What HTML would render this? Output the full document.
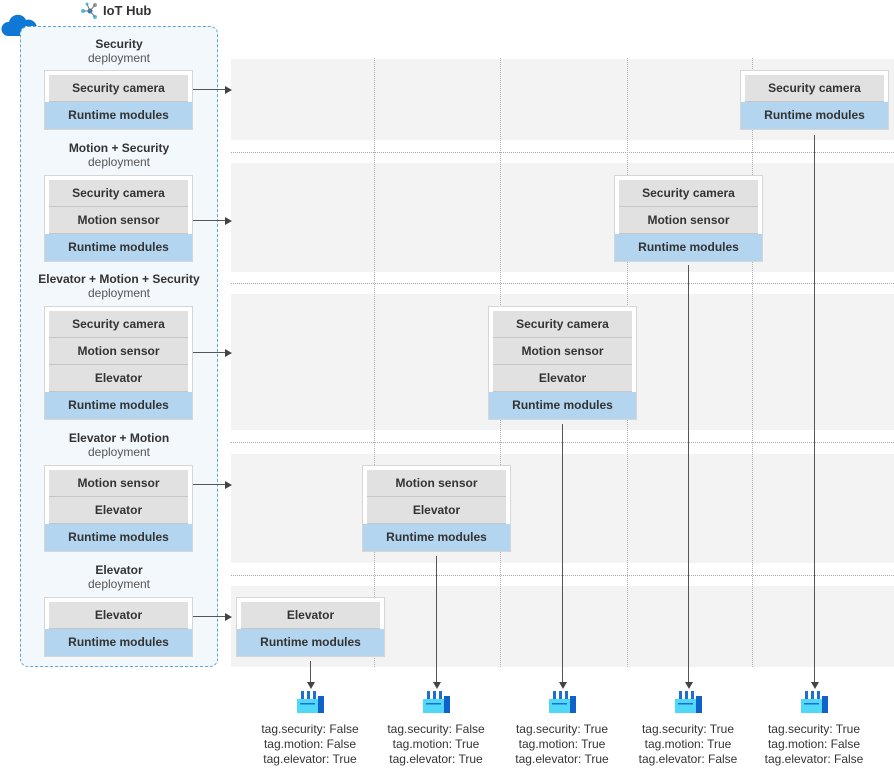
<!DOCTYPE html>
<html><head><meta charset="utf-8"><style>
body{margin:0;width:894px;height:768px;background:#fff;position:relative;overflow:hidden;font-family:"Liberation Sans",sans-serif;color:#333}
.a{position:absolute}
.band{position:absolute;left:231px;width:663px;background:#f3f3f3}
.hs{position:absolute;left:231px;width:663px;height:0;border-top:1.5px dotted #aaa}
.vs{position:absolute;top:58px;height:609px;width:0;border-left:1.5px dotted #b0b0b0}
.card{position:absolute;width:149px;background:#fff;border:1px solid #d6d6d6;box-sizing:border-box;padding-top:4px;font-size:12px;font-weight:bold;text-align:center}
.g{margin:0 4px;height:27px;line-height:27px;background:#e1e1e1;border-bottom:1px solid #c6c6c6;box-sizing:border-box}
.b{height:27px;line-height:27px;background:#b3d5ef}
.t{position:absolute;width:198px;left:20px;text-align:center;font-size:12px;line-height:14px}
.t b{color:#333}.t span{color:#555}
.ha{position:absolute;height:1px;background:#555;width:33px;left:193px}
.ha:after{content:"";position:absolute;right:-6px;top:-3.5px;border-left:7px solid #444;border-top:4px solid transparent;border-bottom:4px solid transparent}
.va{position:absolute;width:1px;background:#555}
.va:after{content:"";position:absolute;bottom:-6px;left:-3.5px;border-top:7px solid #444;border-left:4px solid transparent;border-right:4px solid transparent}
.tag{position:absolute;width:130px;text-align:center;font-size:12px;line-height:15px;top:722px;color:#333}
.ic{position:absolute;top:691px}
</style></head><body>
<!-- header -->
<svg class="a" style="left:0;top:8px" width="40" height="30"><path d="M8 28 a7 7 0 0 1 1-14 a9 9 0 0 1 17-2 a7 7 0 0 1 5 16 z" fill="#0f78d4"/></svg>
<svg class="a" style="left:80px;top:2px" width="20" height="18"><circle cx="3" cy="9" r="2" fill="#50c0f0"/><circle cx="10" cy="9" r="2.5" fill="#0f78d4"/><circle cx="15" cy="3" r="2" fill="#999"/><circle cx="15" cy="15" r="2" fill="#50c0f0"/><circle cx="7" cy="2" r="1.5" fill="#50c0f0"/><path d="M3 9H10L15 3M10 9L15 15M10 9L7 2" stroke="#777" stroke-width="1" fill="none"/></svg>
<div class="a" style="left:103px;top:3px;font-size:13px;font-weight:bold;color:#333">IoT Hub</div>
<div class="a" style="left:20px;top:26px;width:198px;height:641px;box-sizing:border-box;border:1.5px dashed #5aa7e0;border-radius:8px;background:#f3f8fd"></div>

<!-- bands -->
<div class="band" style="top:59px;height:81px"></div>
<div class="band" style="top:163px;height:109px"></div>
<div class="band" style="top:294px;height:136px"></div>
<div class="band" style="top:454px;height:109px"></div>
<div class="band" style="top:586px;height:81px"></div>
<div class="hs" style="top:152px"></div>
<div class="hs" style="top:283px"></div>
<div class="hs" style="top:442px"></div>
<div class="hs" style="top:575px"></div>
<div class="vs" style="left:374px"></div>
<div class="vs" style="left:500px"></div>
<div class="vs" style="left:627px"></div>
<div class="vs" style="left:752px"></div>

<!-- left titles -->
<div class="t" style="top:37px"><b>Security</b><br><span>deployment</span></div>
<div class="t" style="top:141px"><b>Motion + Security</b><br><span>deployment</span></div>
<div class="t" style="top:272px"><b>Elevator + Motion + Security</b><br><span>deployment</span></div>
<div class="t" style="top:431px"><b>Elevator + Motion</b><br><span>deployment</span></div>
<div class="t" style="top:563px"><b>Elevator</b><br><span>deployment</span></div>

<!-- left cards -->
<div class="card" style="left:44px;top:70px"><div class="g">Security camera</div><div class="b">Runtime modules</div></div>
<div class="card" style="left:44px;top:175px"><div class="g">Security camera</div><div class="g">Motion sensor</div><div class="b">Runtime modules</div></div>
<div class="card" style="left:44px;top:306px"><div class="g">Security camera</div><div class="g">Motion sensor</div><div class="g">Elevator</div><div class="b">Runtime modules</div></div>
<div class="card" style="left:44px;top:465px"><div class="g">Motion sensor</div><div class="g">Elevator</div><div class="b">Runtime modules</div></div>
<div class="card" style="left:44px;top:597px"><div class="g">Elevator</div><div class="b">Runtime modules</div></div>

<!-- horizontal arrows -->
<div class="ha" style="top:89px"></div>
<div class="ha" style="top:220px"></div>
<div class="ha" style="top:352px"></div>
<div class="ha" style="top:484px"></div>
<div class="ha" style="top:616px"></div>

<!-- right cards -->
<div class="card" style="left:740px;top:70px"><div class="g">Security camera</div><div class="b">Runtime modules</div></div>
<div class="card" style="left:614px;top:175px"><div class="g">Security camera</div><div class="g">Motion sensor</div><div class="b">Runtime modules</div></div>
<div class="card" style="left:488px;top:306px"><div class="g">Security camera</div><div class="g">Motion sensor</div><div class="g">Elevator</div><div class="b">Runtime modules</div></div>
<div class="card" style="left:362px;top:465px"><div class="g">Motion sensor</div><div class="g">Elevator</div><div class="b">Runtime modules</div></div>
<div class="card" style="left:236px;top:597px"><div class="g">Elevator</div><div class="b">Runtime modules</div></div>

<!-- vertical arrows -->
<div class="va" style="left:310px;top:661px;height:22px"></div>
<div class="va" style="left:436px;top:556px;height:127px"></div>
<div class="va" style="left:562px;top:424px;height:259px"></div>
<div class="va" style="left:688px;top:265px;height:418px"></div>
<div class="va" style="left:814px;top:135px;height:548px"></div>

<!-- factory icons -->
<svg class="ic" style="left:297px" width="27" height="22"><g id="f"><rect x="4" y="0" width="3" height="8" fill="#1e6fd0"/><rect x="10" y="0" width="3" height="8" fill="#1e6fd0"/><rect x="16" y="0" width="3" height="8" fill="#1e6fd0"/><rect x="0" y="8" width="21" height="14" fill="#4fd8f8"/><rect x="21" y="5" width="6" height="17" fill="#0f62c8"/><rect x="3" y="12" width="15" height="1.5" fill="#1e6fd0"/></g></svg>
<svg class="ic" style="left:423px" width="27" height="22"><use href="#f"/></svg>
<svg class="ic" style="left:549px" width="27" height="22"><use href="#f"/></svg>
<svg class="ic" style="left:675px" width="27" height="22"><use href="#f"/></svg>
<svg class="ic" style="left:801px" width="27" height="22"><use href="#f"/></svg>

<!-- tags -->
<div class="tag" style="left:245px">tag.security: False<br>tag.motion: False<br>tag.elevator: True</div>
<div class="tag" style="left:371px">tag.security: False<br>tag.motion: True<br>tag.elevator: True</div>
<div class="tag" style="left:497px">tag.security: True<br>tag.motion: True<br>tag.elevator: True</div>
<div class="tag" style="left:623px">tag.security: True<br>tag.motion: True<br>tag.elevator: False</div>
<div class="tag" style="left:749px">tag.security: True<br>tag.motion: False<br>tag.elevator: False</div>
</body></html>
